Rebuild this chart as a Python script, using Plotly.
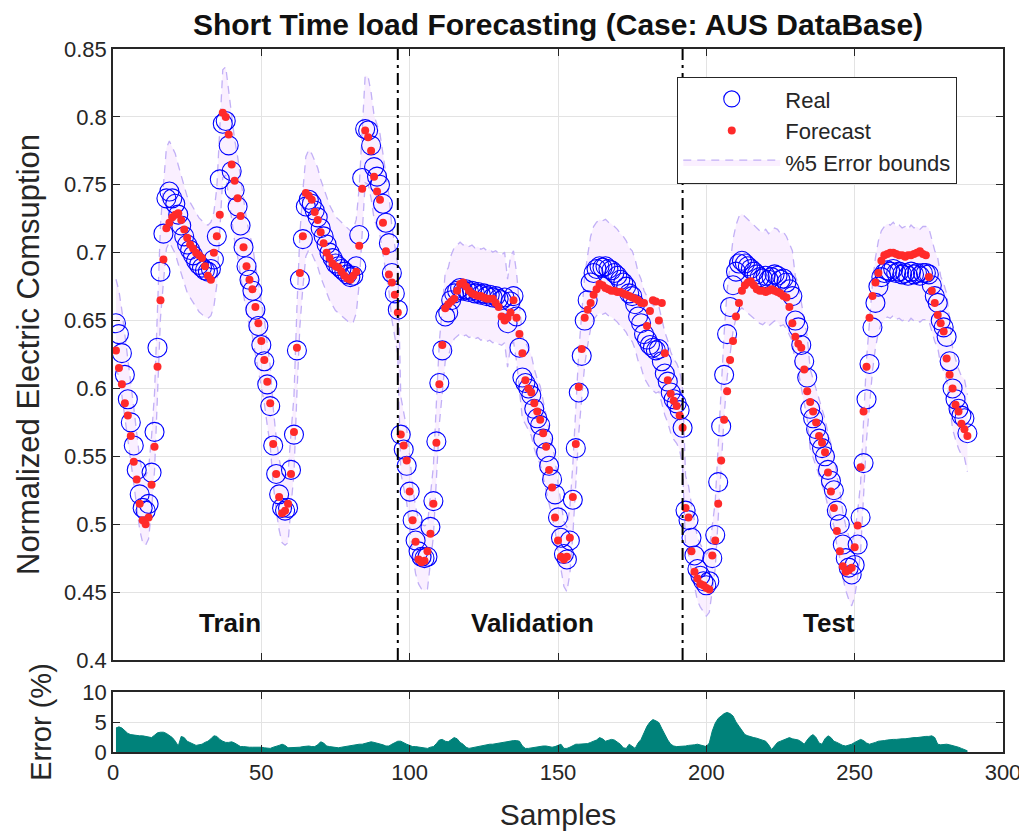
import plotly.graph_objects as go

samples = list(range(1, 289))

real = [
    # Train (1-96)
    0.648, 0.640, 0.626, 0.610, 0.592, 0.575, 0.558, 0.540, 0.522, 0.512,
    0.510, 0.515, 0.538, 0.568, 0.630, 0.686, 0.714, 0.740, 0.745, 0.740,
    0.736, 0.728, 0.720, 0.712, 0.706, 0.702, 0.698, 0.694, 0.691, 0.689,
    0.687, 0.686, 0.688, 0.695, 0.712, 0.754, 0.795, 0.797, 0.779, 0.760,
    0.746, 0.734, 0.720, 0.704, 0.690, 0.680, 0.672, 0.658, 0.646, 0.632,
    0.620, 0.603, 0.587, 0.558, 0.537, 0.522, 0.512, 0.510, 0.512, 0.540,
    0.566, 0.628, 0.680, 0.710, 0.734, 0.739, 0.736, 0.731, 0.726, 0.718,
    0.712, 0.706, 0.700, 0.696, 0.692, 0.690, 0.688, 0.686, 0.684, 0.682,
    0.683, 0.690, 0.713, 0.755, 0.791, 0.790, 0.779, 0.763, 0.756, 0.750,
    0.736, 0.722, 0.707, 0.685, 0.670, 0.658,
    # Validation (97-192)
    0.566, 0.555, 0.543, 0.524, 0.503, 0.488, 0.480, 0.476, 0.475, 0.476,
    0.498, 0.517, 0.561, 0.604, 0.628, 0.653, 0.656, 0.665, 0.670, 0.672,
    0.674, 0.672, 0.673, 0.671, 0.672, 0.670, 0.671, 0.669, 0.670, 0.668,
    0.669, 0.667, 0.668, 0.666, 0.665, 0.667, 0.648, 0.664, 0.668, 0.653,
    0.630, 0.608, 0.604, 0.600, 0.595, 0.585, 0.578, 0.573, 0.563, 0.553,
    0.543, 0.533, 0.522, 0.505, 0.490, 0.478, 0.474, 0.488, 0.518, 0.556,
    0.597, 0.624, 0.650, 0.665, 0.678, 0.685, 0.688, 0.690, 0.689, 0.690,
    0.688, 0.687, 0.685, 0.683, 0.680, 0.678, 0.675, 0.670, 0.668, 0.662,
    0.653, 0.648, 0.640, 0.636, 0.632, 0.630, 0.628, 0.629, 0.620, 0.611,
    0.605, 0.597, 0.592, 0.589, 0.584, 0.571,
    # Test (193-288)
    0.510, 0.503, 0.490, 0.477, 0.467, 0.462, 0.458, 0.455, 0.458, 0.475,
    0.492, 0.531, 0.572, 0.610, 0.640, 0.660, 0.676, 0.686, 0.692, 0.694,
    0.692, 0.690, 0.688, 0.686, 0.684, 0.682, 0.681, 0.683, 0.680, 0.682,
    0.684, 0.683, 0.680, 0.681, 0.678, 0.673, 0.668, 0.650, 0.645, 0.632,
    0.620, 0.608, 0.585, 0.578, 0.570, 0.563, 0.556, 0.550, 0.540, 0.532,
    0.525, 0.510, 0.500, 0.485, 0.475, 0.468, 0.463, 0.470, 0.485, 0.505,
    0.545, 0.592, 0.618, 0.645, 0.663, 0.675, 0.682, 0.685, 0.687, 0.686,
    0.688, 0.685, 0.686, 0.684, 0.685, 0.683, 0.686, 0.684, 0.685, 0.683,
    0.685, 0.685, 0.684, 0.676, 0.668, 0.663, 0.650, 0.645, 0.638, 0.620,
    0.600, 0.592, 0.585, 0.580, 0.578, 0.567,
]

forecast = [
    # Train (1-96)
    0.628, 0.615, 0.603, 0.589, 0.580, 0.565, 0.546, 0.533, 0.515, 0.503,
    0.500, 0.505, 0.529, 0.557, 0.616, 0.665, 0.695, 0.718, 0.722, 0.726,
    0.728, 0.729, 0.724, 0.717, 0.711, 0.706, 0.703, 0.700, 0.698, 0.696,
    0.690, 0.683, 0.680, 0.700, 0.712, 0.728, 0.803, 0.800, 0.787, 0.765,
    0.753, 0.740, 0.727, 0.704, 0.690, 0.680, 0.673, 0.660, 0.648, 0.635,
    0.621, 0.605, 0.589, 0.559, 0.537, 0.520, 0.508, 0.510, 0.515, 0.537,
    0.568, 0.630, 0.685, 0.712, 0.744, 0.742, 0.739, 0.730, 0.724, 0.715,
    0.707, 0.700, 0.696, 0.692, 0.690, 0.689, 0.686, 0.683, 0.681, 0.680,
    0.683, 0.686, 0.705, 0.747, 0.790, 0.785, 0.775, 0.756, 0.745, 0.739,
    0.722, 0.701, 0.684, 0.678, 0.669, 0.656,
    # Validation (97-192)
    0.566, 0.558, 0.547, 0.524, 0.503, 0.487, 0.474, 0.472, 0.473, 0.480,
    0.493, 0.515, 0.560, 0.603, 0.632, 0.659, 0.662, 0.664, 0.666, 0.672,
    0.677, 0.678, 0.675, 0.672, 0.670, 0.669, 0.668, 0.668, 0.667, 0.666,
    0.666, 0.666, 0.663, 0.660, 0.653, 0.650, 0.652, 0.656, 0.665, 0.652,
    0.640, 0.626, 0.606, 0.600, 0.597, 0.589, 0.583, 0.577, 0.567, 0.557,
    0.540, 0.527, 0.505, 0.488, 0.476, 0.474, 0.476, 0.490, 0.520, 0.559,
    0.601, 0.629, 0.652, 0.658, 0.663, 0.669, 0.673, 0.677, 0.676, 0.674,
    0.673, 0.672, 0.672, 0.671, 0.671, 0.670, 0.669, 0.668, 0.667, 0.666,
    0.665, 0.663, 0.663, 0.646, 0.657, 0.665, 0.664, 0.650, 0.663, 0.626,
    0.606, 0.596, 0.591, 0.587, 0.580, 0.571,
    # Test (193-288)
    0.512, 0.505, 0.480, 0.465, 0.460, 0.456, 0.455, 0.453, 0.452, 0.477,
    0.488, 0.515, 0.547, 0.577, 0.598, 0.621, 0.635, 0.653, 0.663, 0.672,
    0.676, 0.678, 0.679, 0.676, 0.673, 0.672, 0.672, 0.671, 0.672, 0.673,
    0.672, 0.671, 0.670, 0.668, 0.667, 0.660, 0.648, 0.638, 0.633, 0.630,
    0.614, 0.598, 0.590, 0.583, 0.575, 0.565, 0.560, 0.553, 0.538, 0.524,
    0.512, 0.495, 0.480, 0.469, 0.465, 0.466, 0.468, 0.483, 0.499, 0.542,
    0.583, 0.616, 0.652, 0.668, 0.678, 0.685, 0.694, 0.698, 0.699, 0.700,
    0.700, 0.699, 0.698, 0.698, 0.697, 0.698, 0.698, 0.699, 0.700, 0.701,
    0.699, 0.698, 0.682, 0.672, 0.663, 0.654, 0.648, 0.642, 0.622, 0.610,
    0.600, 0.588, 0.583, 0.574, 0.570, 0.565,
]

error_pct = [
    4.0, 4.2, 4.0, 3.6, 3.1, 2.9, 2.8, 2.8, 2.7, 2.7,
    2.6, 2.5, 2.4, 2.8, 3.2, 3.3, 3.3, 3.1, 2.8, 2.4,
    1.8, 1.0, 2.6, 2.4, 1.8, 1.6, 1.3, 1.1, 1.2, 1.3,
    1.6, 1.8, 2.2, 2.7, 2.6, 2.1, 1.8, 1.6, 1.6, 1.7,
    1.5, 1.2, 0.9, 0.9, 0.8, 0.8, 0.8, 0.8, 0.9, 0.8,
    0.7, 0.6, 0.6, 0.8, 0.9, 1.1, 1.3, 1.1, 0.7, 0.7,
    0.7, 0.8, 0.8, 0.9, 1.0, 1.0, 0.9, 0.9, 1.2, 1.7,
    1.5, 1.0, 0.9, 0.8, 0.8, 0.7, 0.8, 0.9, 1.0, 1.1,
    1.1, 1.2, 1.3, 1.3, 1.4, 1.5, 1.7, 1.6, 1.5, 1.4,
    1.2, 1.0, 1.0, 1.3, 1.6, 1.8, 1.8, 1.5, 1.3, 1.1,
    0.9, 0.9, 0.8, 0.7, 0.6, 0.6, 0.8, 0.9, 1.4, 2.0,
    2.1, 1.8, 1.7, 2.0, 2.4, 2.2, 1.6, 1.3, 0.8, 0.6,
    0.7, 0.9, 1.0, 1.0, 1.1, 1.2, 1.3, 1.3, 1.4, 1.5,
    1.6, 1.7, 1.7, 1.8, 1.9, 1.9, 1.8, 1.0, 0.6, 0.6,
    0.7, 0.7, 0.8, 0.9, 1.0, 1.0, 0.9, 0.8, 0.9, 1.1,
    1.3, 0.6, 0.6, 0.8, 1.0, 1.3, 1.3, 1.3, 1.3, 1.4,
    1.6, 1.8, 2.0, 2.4, 2.2, 1.8, 1.9, 2.1, 2.0, 1.6,
    1.3, 0.7, 0.6, 1.3, 1.0, 0.6, 1.5, 2.1, 3.2, 4.3,
    5.0, 5.4, 5.2, 4.9, 3.9, 2.9, 2.0, 1.3, 1.0, 0.9,
    0.9, 0.9, 1.0, 1.1, 1.1, 1.2, 1.3, 1.2, 1.0, 0.9,
    1.5, 3.5, 4.8, 5.6, 6.0, 6.4, 6.6, 6.4, 6.0, 5.0,
    4.3, 3.5, 2.9, 2.7, 2.5, 2.4, 2.3, 2.1, 1.9, 1.8,
    1.2, 0.4, 1.0, 1.6, 1.8, 2.0, 2.2, 2.4, 2.2, 2.1,
    2.0, 1.7, 1.3, 2.0, 2.6, 2.9, 2.4, 1.5, 1.3, 2.2,
    2.7, 2.4, 1.8, 1.6, 1.3, 1.1, 1.0, 1.1, 1.3, 1.6,
    1.9, 2.1, 1.9, 1.5, 1.3, 1.4, 1.6, 1.8, 1.8, 1.9,
    2.0, 2.1, 2.1, 2.1, 2.2, 2.2, 2.2, 2.3, 2.3, 2.4,
    2.4, 2.5, 2.5, 2.6, 2.6, 2.7, 2.4, 1.3, 1.2, 1.3,
    1.3, 1.2, 1.1, 1.0, 0.8, 0.6, 0.4, 0.2,
]

bound_pct = 5.0
split_points = [96, 192]
segment_labels = ["Train", "Validation", "Test"]
segment_label_x = [39.5, 141.5, 241.5]
segment_label_y = 0.427

upper = [v * (1 + bound_pct / 100) for v in real]
lower = [v * (1 - bound_pct / 100) for v in real]

FONT = "Liberation Sans, Arial, Helvetica, sans-serif"
AX = "#262626"
GRID = "#e3e3e3"
BOUND = "#c2b0f6"

fig = go.Figure()

# error bounds (lower first, then upper filled to it)
fig.add_trace(go.Scatter(
    x=samples, y=lower, mode="lines",
    line=dict(color=BOUND, width=1.3, dash="8px,6px"),
    showlegend=False, hoverinfo="skip", xaxis="x", yaxis="y"))
fig.add_trace(go.Scatter(
    x=samples, y=upper, mode="lines", fill="tonexty",
    fillcolor="rgba(246,226,255,0.55)",
    line=dict(color=BOUND, width=1.3, dash="8px,6px"),
    name="%5 Error bounds", legendrank=3, xaxis="x", yaxis="y"))

fig.add_trace(go.Scatter(
    x=samples, y=real, mode="markers", name="Real", legendrank=1,
    marker=dict(symbol="circle-open", size=19, color="#0000ff",
                line=dict(width=1.1, color="#0000ff")),
    xaxis="x", yaxis="y"))
fig.add_trace(go.Scatter(
    x=samples, y=forecast, mode="markers", name="Forecast", legendrank=2,
    marker=dict(symbol="circle", size=8, color="#ff2a2a"),
    xaxis="x", yaxis="y"))

fig.add_trace(go.Scatter(
    x=samples, y=error_pct, mode="lines", fill="tozeroy",
    fillcolor="#00827a", line=dict(color="#00827a", width=1),
    showlegend=False, xaxis="x2", yaxis="y2"))

for sp in split_points:
    fig.add_shape(type="line", xref="x", yref="y", x0=sp, x1=sp, y0=0.4, y1=0.85,
                  line=dict(color="black", width=2, dash="12px,5px,3px,5px"))

for lbl, lx in zip(segment_labels, segment_label_x):
    fig.add_annotation(x=lx, y=segment_label_y, xref="x", yref="y", text=f"<b>{lbl}</b>",
                       showarrow=False, font=dict(family=FONT, size=26, color="#111111"))

axis_common = dict(
    showline=True, linecolor=AX, linewidth=1.5, mirror="ticks",
    ticks="inside", ticklen=7, tickcolor=AX, tickwidth=1,
    showgrid=True, gridcolor=GRID, gridwidth=1, zeroline=False, automargin=False,
    tickfont=dict(family=FONT, size=22, color=AX),
)

W, H = 1019, 826  # page body has an 8px margin

fig.update_layout(
    width=W, height=H,
    margin=dict(l=105, r=24, t=41, b=82),
    paper_bgcolor="white", plot_bgcolor="white",
    font=dict(family=FONT, color=AX),
    title=dict(text="<b>Short Time load Forecasting (Case: AUS DataBase)</b>",
               x=0.5, xref="paper", xanchor="center",
               y=1 - 6 / H, yref="container", yanchor="top",
               font=dict(family=FONT, size=30, color="#111111")),
    xaxis=dict(domain=[0, 1], range=[0, 300], dtick=50, anchor="y",
               showticklabels=False, **axis_common),
    yaxis=dict(domain=[0.1309, 1], range=[0.4, 0.85], dtick=0.05, anchor="x",
               title=dict(text="Normalized Electric Comsuption",
                          font=dict(family=FONT, size=31, color=AX), standoff=15),
               **axis_common),
    xaxis2=dict(domain=[0, 1], range=[0, 300], dtick=50, anchor="y2",
                title=dict(text="Samples", font=dict(family=FONT, size=30, color=AX),
                           standoff=20),
                **axis_common),
    yaxis2=dict(domain=[0, 0.0853], range=[0, 10], tickvals=[0, 5, 10], anchor="x2",
                title=dict(text="Error (%)", font=dict(family=FONT, size=29, color=AX),
                           standoff=22),
                **axis_common),
    legend=dict(x=0.634, y=0.96, xanchor="left", yanchor="top",
                traceorder="normal",
                bgcolor="white", bordercolor=AX, borderwidth=1,
                font=dict(family=FONT, size=22, color=AX),
                itemwidth=97, tracegroupgap=0),
)

fig.write_html("out.html")
